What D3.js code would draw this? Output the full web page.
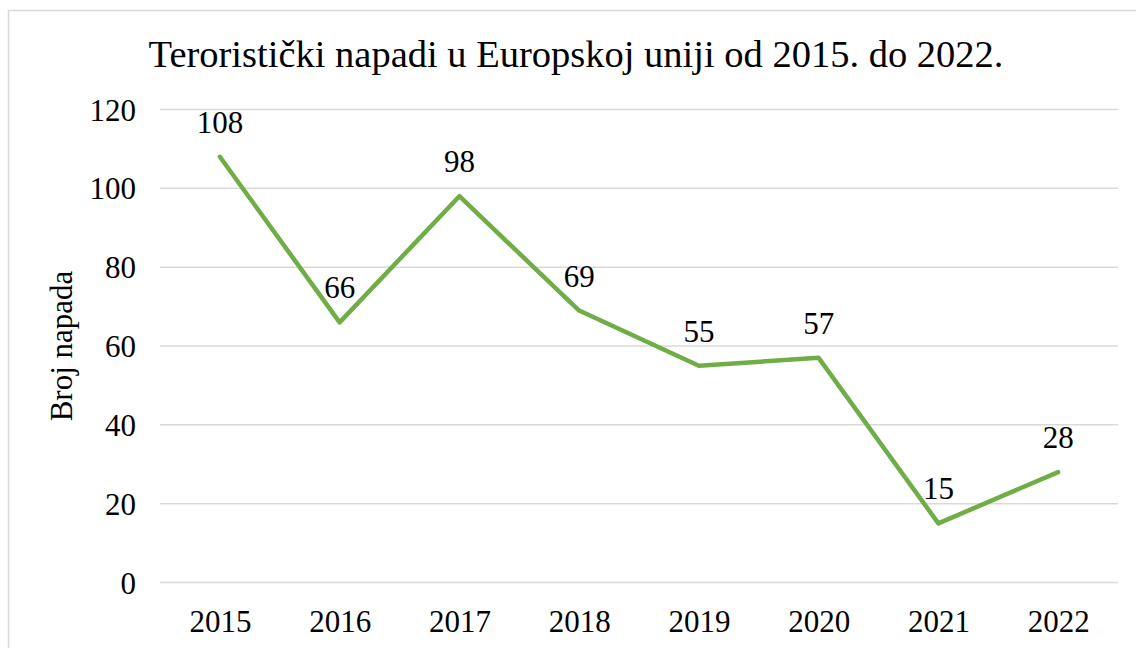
<!DOCTYPE html>
<html>
<head>
<meta charset="utf-8">
<script src="https://cdn.jsdelivr.net/npm/d3@7"></script>
<style>
  html, body { margin: 0; padding: 0; background: #ffffff; }
  svg { display: block; }
</style>
</head>
<body>
<svg id="chart" width="1136" height="648"></svg>
<script>
const title = "Teroristički napadi u Europskoj uniji od 2015. do 2022.";
const yAxisTitle = "Broj napada";
const years = ["2015", "2016", "2017", "2018", "2019", "2020", "2021", "2022"];
const attacks = [108, 66, 98, 69, 55, 57, 15, 28];
const yTicks = [0, 20, 40, 60, 80, 100, 120];

const FONT = "'Liberation Serif', 'Times New Roman', serif";
const svg = d3.select("#chart");

// outer chart border (extends past right/bottom edges)
svg.append("rect")
  .attr("x", 8.5).attr("y", 10.5)
  .attr("width", 1150).attr("height", 660)
  .attr("fill", "none").attr("stroke", "#d9d9d9").attr("stroke-width", 1.5);

const plot = { left: 160, right: 1118, top: 109.5, bottom: 582.5 };

const x = d3.scalePoint().domain(years)
  .range([plot.left, plot.right]).padding(0.5);
const y = d3.scaleLinear().domain([0, 120]).range([plot.bottom, plot.top]);

// gridlines
svg.append("g").selectAll("line").data(yTicks).join("line")
  .attr("x1", plot.left).attr("x2", plot.right)
  .attr("y1", d => y(d)).attr("y2", d => y(d))
  .attr("stroke", "#d9d9d9").attr("stroke-width", 1.5);

// y axis labels
const yAxis = d3.axisLeft(y).tickValues(yTicks).tickSize(0).tickPadding(0);
const gy = svg.append("g").attr("transform", "translate(136,0)").call(yAxis);
gy.attr("font-family", FONT).attr("font-size", 31);
gy.select(".domain").remove();
gy.selectAll("text")
  .style("font-family", FONT)
  .attr("font-size", 31).attr("fill", "#000")
  .attr("dy", "0.34em");

// x axis labels
const xAxis = d3.axisBottom(x).tickSize(0).tickPadding(0);
const gx = svg.append("g").attr("transform", `translate(0,${plot.bottom})`).call(xAxis);
gx.attr("font-family", FONT).attr("font-size", 31);
gx.select(".domain").remove();
gx.selectAll("text")
  .style("font-family", FONT)
  .attr("font-size", 31).attr("fill", "#000")
  .attr("dy", null).attr("y", 49);

// line
const line = d3.line().x((d, i) => x(years[i])).y(d => y(d));
svg.append("path")
  .datum(attacks)
  .attr("d", line)
  .attr("fill", "none")
  .attr("stroke", "#70ad47")
  .attr("stroke-width", 4.5)
  .attr("stroke-linejoin", "round")
  .attr("stroke-linecap", "round");

// data labels
svg.append("g").selectAll("text").data(attacks).join("text")
  .attr("x", (d, i) => x(years[i]))
  .attr("y", d => y(d) - 24)
  .attr("text-anchor", "middle")
  .style("font-family", FONT)
  .attr("font-size", 31)
  .attr("fill", "#000")
  .text(d => d);

// title
svg.append("text")
  .attr("x", 576).attr("y", 67)
  .attr("text-anchor", "middle")
  .style("font-family", FONT)
  .attr("font-size", 38.5)
  .attr("fill", "#000")
  .text(title);

// y axis title
svg.append("text")
  .attr("transform", "translate(72,346) rotate(-90)")
  .attr("text-anchor", "middle")
  .style("font-family", FONT)
  .attr("font-size", 31)
  .attr("fill", "#000")
  .text(yAxisTitle);
</script>
</body>
</html>
